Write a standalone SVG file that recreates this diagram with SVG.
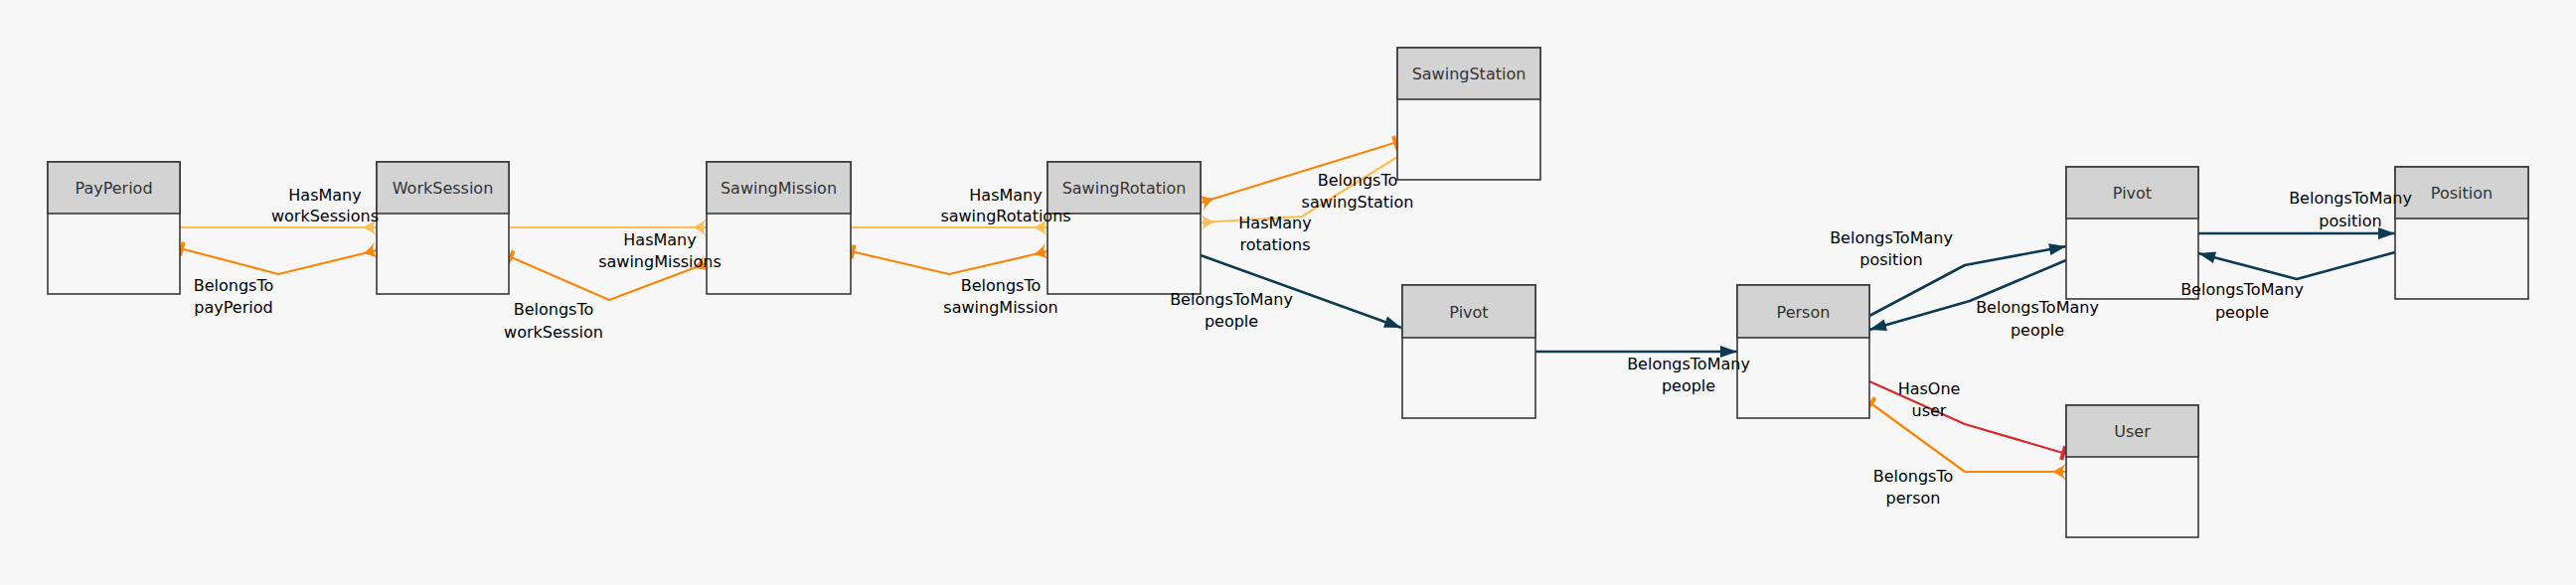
<svg xmlns="http://www.w3.org/2000/svg" width="2592" height="589" viewBox="0 0 2592 589">
<style>
.body{fill:#f7f7f7;stroke:#383838;stroke-width:1.6}
.head{fill:#d3d3d3;stroke:#383838;stroke-width:1.6}
.title{font-family:"DejaVu Sans",sans-serif;font-size:16px;fill:#333;text-anchor:middle}
.lbl{font-family:"DejaVu Sans",sans-serif;font-size:16px;fill:#000;text-anchor:middle}
.e{fill:none;stroke-width:2.2;stroke-linejoin:round}
.hm{stroke:#fcbe52}
.bt{stroke:#fb8607}
.btm{stroke:#0d3a53;stroke-width:2.6}
.ho{stroke:#d8282e}
</style>
<defs>
<marker id="crowLight" markerUnits="userSpaceOnUse" orient="auto" viewBox="-18 -12 20 24" markerWidth="20" markerHeight="24" refX="0" refY="0">
<path d="M-15,0 Q-6,-3 0,-9 Q-5,-2 -2,0 Q-5,2 0,9 Q-6,3 -15,0 Z" fill="#fcbe52"/>
</marker>
<marker id="crowDark" markerUnits="userSpaceOnUse" orient="auto" viewBox="-18 -12 20 24" markerWidth="20" markerHeight="24" refX="0" refY="0">
<path d="M-15,0 Q-6,-3 0,-9 Q-5,-2 -2,0 Q-5,2 0,9 Q-6,3 -15,0 Z" fill="#fb8607"/>
</marker>
<marker id="teeDark" markerUnits="userSpaceOnUse" orient="auto" viewBox="-4 -10 12 20" markerWidth="12" markerHeight="20" refX="0" refY="0">
<rect x="0" y="-7" width="4" height="14" fill="#fb8607"/>
</marker>
<marker id="teeRed" markerUnits="userSpaceOnUse" orient="auto" viewBox="-8 -10 12 20" markerWidth="12" markerHeight="20" refX="0" refY="0">
<rect x="-5" y="-7" width="4" height="14" fill="#d8282e"/>
</marker>
<marker id="arrowNavy" markerUnits="userSpaceOnUse" orient="auto" viewBox="-20 -8 22 16" markerWidth="22" markerHeight="16" refX="0" refY="0">
<path d="M0,0 L-17,-6 L-17,6 Z" fill="#0d3a53"/>
</marker>
</defs>
<rect x="0" y="0" width="2592" height="589" fill="#f7f7f7"/>

<g id="connectors">
<path class="e hm" d="M181,229 L379,229" marker-end="url(#crowLight)"/>
<path class="e bt" d="M181,250 L280,276 L379,252" marker-start="url(#teeDark)" marker-end="url(#crowDark)"/>
<path class="e hm" d="M512,229 L711,229" marker-end="url(#crowLight)"/>
<path class="e bt" d="M512,258 L613,302 L711,265" marker-start="url(#teeDark)" marker-end="url(#crowDark)"/>
<path class="e hm" d="M856,229 L1054,229" marker-end="url(#crowLight)"/>
<path class="e bt" d="M856,253 L955,276 L1054,253" marker-start="url(#teeDark)" marker-end="url(#crowDark)"/>
<path class="e bt" d="M1406,143 L1208,204" marker-start="url(#teeDark)" marker-end="url(#crowDark)"/>
<path class="e hm" d="M1406,158 L1310,218 L1208,224" marker-end="url(#crowLight)"/>
<path class="e btm" d="M1208,257 L1410,330" marker-end="url(#arrowNavy)"/>
<path class="e btm" d="M1545,354 L1748,354" marker-end="url(#arrowNavy)"/>
<path class="e btm" d="M1881,318 L1977,267 L2079,248" marker-end="url(#arrowNavy)"/>
<path class="e btm" d="M2079,262 L1982,303 L1881,332" marker-end="url(#arrowNavy)"/>
<path class="e btm" d="M2212,235 L2410,235" marker-end="url(#arrowNavy)"/>
<path class="e btm" d="M2410,254 L2311,281 L2212,255" marker-end="url(#arrowNavy)"/>
<path class="e ho" d="M1881,384 L1977,427 L2079,457" marker-end="url(#teeRed)"/>
<path class="e bt" d="M1881,405 L1977,475 L2079,475" marker-start="url(#teeDark)" marker-end="url(#crowDark)"/>
</g>

<g id="node-payperiod"><rect class="body" x="48" y="163" width="133" height="133"/><rect class="head" x="48" y="163" width="133" height="52"/><text class="title" x="114.5" y="195">PayPeriod</text></g>
<g id="node-worksession"><rect class="body" x="379" y="163" width="133" height="133"/><rect class="head" x="379" y="163" width="133" height="52"/><text class="title" x="445.5" y="195">WorkSession</text></g>
<g id="node-sawingmission"><rect class="body" x="711" y="163" width="145" height="133"/><rect class="head" x="711" y="163" width="145" height="52"/><text class="title" x="783.5" y="195">SawingMission</text></g>
<g id="node-sawingrotation"><rect class="body" x="1054" y="163" width="154" height="133"/><rect class="head" x="1054" y="163" width="154" height="52"/><text class="title" x="1131" y="195">SawingRotation</text></g>
<g id="node-sawingstation"><rect class="body" x="1406" y="48" width="144" height="133"/><rect class="head" x="1406" y="48" width="144" height="52"/><text class="title" x="1478" y="80">SawingStation</text></g>
<g id="node-pivot1"><rect class="body" x="1411" y="287" width="134" height="134"/><rect class="head" x="1411" y="287" width="134" height="53"/><text class="title" x="1478" y="320">Pivot</text></g>
<g id="node-person"><rect class="body" x="1748" y="287" width="133" height="134"/><rect class="head" x="1748" y="287" width="133" height="53"/><text class="title" x="1814.5" y="320">Person</text></g>
<g id="node-pivot2"><rect class="body" x="2079" y="168" width="133" height="133"/><rect class="head" x="2079" y="168" width="133" height="52"/><text class="title" x="2145.5" y="200">Pivot</text></g>
<g id="node-position"><rect class="body" x="2410" y="168" width="134" height="133"/><rect class="head" x="2410" y="168" width="134" height="52"/><text class="title" x="2477" y="200">Position</text></g>
<g id="node-user"><rect class="body" x="2079" y="408" width="133" height="133"/><rect class="head" x="2079" y="408" width="133" height="52"/><text class="title" x="2145.5" y="440">User</text></g>

<g id="labels">
<text class="lbl" x="327" y="202">HasMany</text><text class="lbl" x="327" y="223">workSessions</text>
<text class="lbl" x="235" y="293">BelongsTo</text><text class="lbl" x="235" y="315">payPeriod</text>
<text class="lbl" x="664" y="247">HasMany</text><text class="lbl" x="664" y="269">sawingMissions</text>
<text class="lbl" x="557" y="317">BelongsTo</text><text class="lbl" x="557" y="340">workSession</text>
<text class="lbl" x="1012" y="202">HasMany</text><text class="lbl" x="1012" y="223">sawingRotations</text>
<text class="lbl" x="1007" y="293">BelongsTo</text><text class="lbl" x="1007" y="315">sawingMission</text>
<text class="lbl" x="1366" y="187">BelongsTo</text><text class="lbl" x="1366" y="209">sawingStation</text>
<text class="lbl" x="1283" y="230">HasMany</text><text class="lbl" x="1283" y="252">rotations</text>
<text class="lbl" x="1239" y="307">BelongsToMany</text><text class="lbl" x="1239" y="329">people</text>
<text class="lbl" x="1699" y="372">BelongsToMany</text><text class="lbl" x="1699" y="394">people</text>
<text class="lbl" x="1903" y="245">BelongsToMany</text><text class="lbl" x="1903" y="267">position</text>
<text class="lbl" x="2050" y="315">BelongsToMany</text><text class="lbl" x="2050" y="338">people</text>
<text class="lbl" x="2365" y="205">BelongsToMany</text><text class="lbl" x="2365" y="228">position</text>
<text class="lbl" x="2256" y="297">BelongsToMany</text><text class="lbl" x="2256" y="320">people</text>
<text class="lbl" x="1941" y="397">HasOne</text><text class="lbl" x="1941" y="419">user</text>
<text class="lbl" x="1925" y="485">BelongsTo</text><text class="lbl" x="1925" y="507">person</text>
</g>
</svg>
